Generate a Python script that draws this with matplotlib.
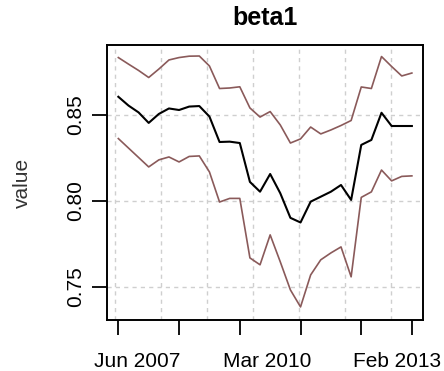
import matplotlib
matplotlib.use("Agg")
import matplotlib.pyplot as plt
import numpy as np

# Posterior summary of beta1 over time: mean with upper / lower bands
beta_mean = [0.8606, 0.8555, 0.8515, 0.8454, 0.8506, 0.8538, 0.8529, 0.8549, 0.8552, 0.8491,
             0.8343, 0.8345, 0.8337, 0.8111, 0.8054, 0.8157, 0.8045, 0.7902, 0.7875, 0.7996,
             0.8025, 0.8054, 0.8093, 0.8006, 0.8326, 0.8355, 0.8513, 0.8436, 0.8436, 0.8436]
beta_upper = [0.8834, 0.8796, 0.8759, 0.8718, 0.8767, 0.8820, 0.8834, 0.8842, 0.8843, 0.8785,
              0.8654, 0.8657, 0.8664, 0.8541, 0.8488, 0.8520, 0.8442, 0.8337, 0.8361, 0.8430,
              0.8390, 0.8413, 0.8439, 0.8468, 0.8663, 0.8654, 0.8840, 0.8782, 0.8727, 0.8744]
beta_lower = [0.8363, 0.8308, 0.8253, 0.8198, 0.8239, 0.8256, 0.8227, 0.8259, 0.8262, 0.8169,
              0.7994, 0.8015, 0.8015, 0.7669, 0.7629, 0.7803, 0.7646, 0.7483, 0.7384, 0.7570,
              0.7658, 0.7698, 0.7733, 0.7559, 0.8021, 0.8053, 0.8180, 0.8117, 0.8143, 0.8146]

tick_pos = [0, 6, 12, 18, 24, 29]
date_label_pos = [1.85, 14.7, 27.5]
date_labels = ["Jun 2007", "Mar 2010", "Feb 2013"]
y_ticks = [0.75, 0.80, 0.85]
y_tick_labels = ["0.75", "0.80", "0.85"]

plt.rcParams['font.family'] = ['Liberation Sans', 'DejaVu Sans']

fig = plt.figure(figsize=(4.44, 3.71), dpi=100)
ax = fig.add_axes([107 / 444, 1 - 320 / 371, 316 / 444, 275 / 371])

x = np.arange(len(beta_mean))

# dotted grid
for gx in np.arange(-0.33, 28.0, 4.545):
    ax.axvline(gx, color='#cfcfcf', lw=1.0, ls=(0, (3, 3)), zorder=0)
for gy in y_ticks:
    ax.axhline(gy, color='#cfcfcf', lw=1.0, ls=(0, (3, 3)), zorder=0)

band_col = '#8a5a5a'
ax.plot(x, beta_upper, color=band_col, lw=1.2)
ax.plot(x, beta_lower, color=band_col, lw=1.2)
ax.plot(x, beta_mean, color='black', lw=1.5)

ax.set_xlim(-1.12, 30.1)
ax.set_ylim(0.7308, 0.8907)

# tick marks (unlabelled) and date labels placed as minor ticks
ax.set_xticks(tick_pos)
ax.set_xticklabels([""] * len(tick_pos))
ax.set_xticks(date_label_pos, minor=True)
ax.set_xticklabels(date_labels, minor=True, fontsize=15)
ax.tick_params(axis='x', which='minor', length=0, pad=23)

ax.set_yticks(y_ticks)
ax.set_yticklabels(y_tick_labels, fontsize=15, rotation=90, va='center')

ax.tick_params(axis='both', which='major', direction='out', length=11, width=1.3, color='black')
ax.tick_params(axis='y', pad=5)

for s in ax.spines.values():
    s.set_linewidth(1.4)
    s.set_color('black')

ax.set_ylabel("value", fontsize=15, color='#333333')
ax.yaxis.set_label_coords(-0.237, 0.5)

fig.text(265 / 444, 1 - 18 / 371, "beta1", fontsize=18, fontweight='bold',
         ha='center', va='center')

fig.savefig("out.png", dpi=100)
